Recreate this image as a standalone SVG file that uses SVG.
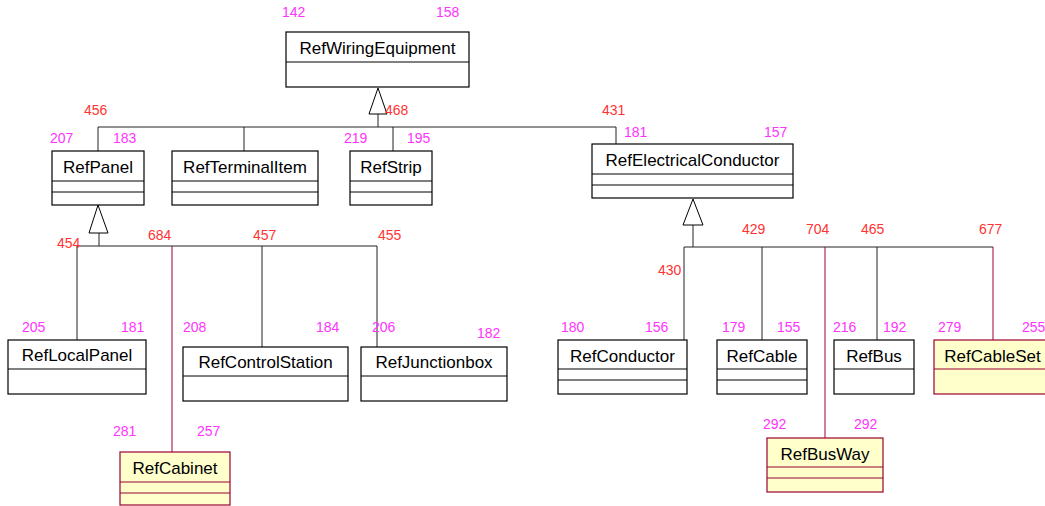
<svg xmlns="http://www.w3.org/2000/svg" width="1045" height="506" viewBox="0 0 1045 506">
<style>
.box{fill:#fff;stroke:#000;stroke-width:1.2}
.ybox{fill:#ffffcc;stroke:#990033;stroke-width:1.2}
.div{stroke:#000;stroke-width:1}
.ydiv{stroke:#990033;stroke-width:1}
.name{font-family:"Liberation Sans",Arial,sans-serif;font-size:17px;fill:#000;text-anchor:middle}
.mg{font-family:"Liberation Sans",Arial,sans-serif;font-size:14px;fill:#ff33ff}
.rd{font-family:"Liberation Sans",Arial,sans-serif;font-size:14px;fill:#ff3333}
.ln{stroke:#222;stroke-width:1;fill:none}
.cr{stroke:#990033;stroke-width:1;fill:none}
.tri{fill:#fff;stroke:#000;stroke-width:1}
</style>
<g id="connectors">
<path class="ln" d="M378,114V127M98,127H616M98,127V151M244,127V151M393,127V151M616,127V144"/>
<polygon class="tri" points="378,88 369,114 387,114"/>
<path class="ln" d="M99,233V246M77,246H377M77,246V340M262,246V347M377,246V347"/>
<polygon class="tri" points="98,205 89,233 108,233"/>
<path class="cr" d="M172,246V452"/>
<path class="ln" d="M693,225V247M684,247H993M684,247V340M762,247V340M877,247V340"/>
<polygon class="tri" points="693,199 683,225 703,225"/>
<path class="cr" d="M825,247V438M993,247V340"/>
</g>
<g id="RefWiringEquipment">
<rect class="box" x="286" y="32" width="183" height="55"/>
<line class="div" x1="286" y1="62" x2="469" y2="62"/>
<text class="name" x="377.5" y="54">RefWiringEquipment</text>
</g>
<g id="RefPanel">
<rect class="box" x="52" y="151" width="92" height="54"/>
<path class="div" d="M52,181H144M52,192H144"/>
<text class="name" x="98" y="173">RefPanel</text>
</g>
<g id="RefTerminalItem">
<rect class="box" x="172" y="151" width="146" height="54"/>
<path class="div" d="M172,181H318M172,192H318"/>
<text class="name" x="245" y="173">RefTerminalItem</text>
</g>
<g id="RefStrip">
<rect class="box" x="350" y="151" width="82" height="54"/>
<path class="div" d="M350,181H432M350,192H432"/>
<text class="name" x="391" y="173">RefStrip</text>
</g>
<g id="RefElectricalConductor">
<rect class="box" x="592" y="144" width="201" height="54"/>
<path class="div" d="M592,174H793M592,185H793"/>
<text class="name" x="692.5" y="166">RefElectricalConductor</text>
</g>
<g id="RefLocalPanel">
<rect class="box" x="8" y="340" width="138" height="54"/>
<path class="div" d="M8,369H146"/>
<text class="name" x="77" y="361">RefLocalPanel</text>
</g>
<g id="RefControlStation">
<rect class="box" x="183" y="347" width="165" height="54"/>
<path class="div" d="M183,376H348"/>
<text class="name" x="265.5" y="368">RefControlStation</text>
</g>
<g id="RefJunctionbox">
<rect class="box" x="361" y="347" width="146" height="54"/>
<path class="div" d="M361,376H507"/>
<text class="name" x="434" y="368">RefJunctionbox</text>
</g>
<g id="RefConductor">
<rect class="box" x="558" y="340" width="129" height="54"/>
<path class="div" d="M558,369H687M558,380H687"/>
<text class="name" x="622.5" y="362">RefConductor</text>
</g>
<g id="RefCable">
<rect class="box" x="717" y="340" width="90" height="54"/>
<path class="div" d="M717,369H807M717,380H807"/>
<text class="name" x="762" y="362">RefCable</text>
</g>
<g id="RefBus">
<rect class="box" x="834" y="340" width="80" height="54"/>
<path class="div" d="M834,369H914"/>
<text class="name" x="874" y="362">RefBus</text>
</g>
<g id="RefCableSet">
<rect class="ybox" x="934" y="340" width="117" height="54"/>
<path class="ydiv" d="M934,369H1051"/>
<text class="name" x="992.5" y="362">RefCableSet</text>
</g>
<g id="RefCabinet">
<rect class="ybox" x="120" y="452" width="110" height="53"/>
<path class="ydiv" d="M120,482H230M120,493H230"/>
<text class="name" x="175" y="474">RefCabinet</text>
</g>
<g id="RefBusWay">
<rect class="ybox" x="767" y="438" width="116" height="54"/>
<path class="ydiv" d="M767,467H883M767,478H883"/>
<text class="name" x="825" y="460">RefBusWay</text>
</g>
<g id="labels">
<text class="mg" x="282" y="17">142</text>
<text class="mg" x="436" y="17">158</text>
<text class="rd" x="84" y="115">456</text>
<text class="rd" x="385" y="115">468</text>
<text class="rd" x="602" y="115">431</text>
<text class="mg" x="50" y="143">207</text>
<text class="mg" x="113" y="143">183</text>
<text class="mg" x="344" y="143">219</text>
<text class="mg" x="407" y="143">195</text>
<text class="mg" x="624" y="137">181</text>
<text class="mg" x="764" y="137">157</text>
<text class="rd" x="57" y="248">454</text>
<text class="rd" x="148" y="240">684</text>
<text class="rd" x="253" y="240">457</text>
<text class="rd" x="378" y="240">455</text>
<text class="rd" x="742" y="234">429</text>
<text class="rd" x="806" y="234">704</text>
<text class="rd" x="861" y="234">465</text>
<text class="rd" x="979" y="234">677</text>
<text class="rd" x="658" y="275">430</text>
<text class="mg" x="22" y="332">205</text>
<text class="mg" x="121" y="332">181</text>
<text class="mg" x="183" y="332">208</text>
<text class="mg" x="316" y="332">184</text>
<text class="mg" x="372" y="332">206</text>
<text class="mg" x="477" y="338">182</text>
<text class="mg" x="561" y="332">180</text>
<text class="mg" x="645" y="332">156</text>
<text class="mg" x="722" y="332">179</text>
<text class="mg" x="777" y="332">155</text>
<text class="mg" x="833" y="332">216</text>
<text class="mg" x="883" y="332">192</text>
<text class="mg" x="938" y="332">279</text>
<text class="mg" x="1022" y="332">255</text>
<text class="mg" x="113" y="436">281</text>
<text class="mg" x="197" y="436">257</text>
<text class="mg" x="763" y="429">292</text>
<text class="mg" x="854" y="429">292</text>
</g>
</svg>
